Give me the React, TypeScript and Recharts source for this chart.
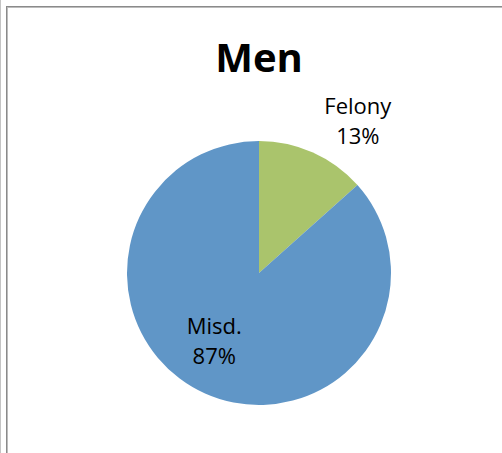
import { PieChart, Pie, Cell } from 'recharts';

const categories = ['Felony', 'Misd.'];
const shares = [13.4, 86.6];
const colors = ['#AAC46C', '#6096C7'];

const data = categories.map((name, i) => ({ name, value: shares[i] }));

const RADIAN = Math.PI / 180;
const FONT = '"Open Sans", "Noto Sans", sans-serif';

function renderLabel(props: any) {
  const { cx, cy, midAngle, outerRadius, percent, name } = props;
  // Excel "best fit": big slice label inside, small slice label outside
  const r = percent > 0.5 ? outerRadius * 0.62 : outerRadius * 1.37;
  const a = (midAngle - 9) * RADIAN;
  const x = cx + r * Math.cos(a);
  const y = cy - r * Math.sin(a);
  return (
    <text x={x} y={y - 8} textAnchor="middle" fill="#000" fontFamily={FONT} fontSize={22}>
      <tspan x={x} dy={0}>{name}</tspan>
      <tspan x={x} dy={30}>{`${Math.round(percent * 100)}%`}</tspan>
    </text>
  );
}

export default function App() {
  return (
    <div style={{ position: 'absolute', left: 0, top: 0, width: 502, height: 453, background: '#fff', overflow: 'hidden' }}>
      <div style={{ position: 'absolute', left: 0, top: 0, width: 1, height: 453, background: '#c4c4c4' }} />
      <div style={{ position: 'absolute', left: 6, top: 6, width: 1, bottom: 0, background: '#8a8a8a' }} />
      <div style={{ position: 'absolute', left: 7, top: 7, width: 1, bottom: 0, background: '#bcbcbc' }} />
      <div style={{ position: 'absolute', left: 6, top: 6, right: 0, height: 1, background: '#8a8a8a' }} />
      <div style={{ position: 'absolute', left: 7, top: 7, right: 0, height: 1, background: '#bcbcbc' }} />
      <div style={{ position: 'absolute', left: 0, top: 0 }}>
        <PieChart width={502} height={453} margin={{ top: 0, right: 0, bottom: 0, left: 0 }}>
          <Pie
            data={data}
            dataKey="value"
            nameKey="name"
            cx={259}
            cy={273}
            outerRadius={132}
            startAngle={90}
            endAngle={-270}
            stroke="none"
            label={renderLabel}
            labelLine={false}
            isAnimationActive={false}
          >
            {data.map((d, i) => (
              <Cell key={d.name} fill={colors[i]} />
            ))}
          </Pie>
        </PieChart>
      </div>
      <svg style={{ position: 'absolute', left: 0, top: 0 }} width={502} height={100}>
        <text x={259} y={72} textAnchor="middle" fontFamily={FONT} fontWeight="bold" fontSize={40} fill="#000">
          Men
        </text>
      </svg>
    </div>
  );
}
